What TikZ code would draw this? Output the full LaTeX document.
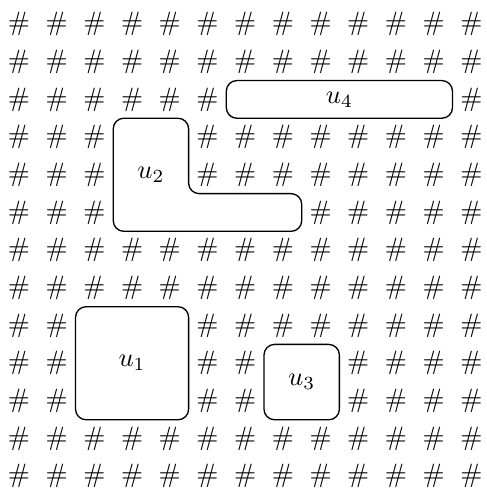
\documentclass[tikz,border=0pt]{standalone}
\begin{document}
\begin{tikzpicture}[x=0.5cm,y=-0.5cm,
  hash/.style={inner sep=0pt,font=\normalsize},
  region/.style={draw,line width=0.5pt,rounded corners=4pt},
  lab/.style={inner sep=0pt}]
\useasboundingbox (-0.504,-0.637) rectangle (12.414,12.31);
\foreach \j in {0,...,12} {
  \foreach \i in {0,...,12} {
    \pgfmathtruncatemacro\cov{((\j==2) && (\i>=6) && (\i<=11)) || (((\j==3) || (\j==4)) && (\i>=3) && (\i<=4)) || ((\j==5) && (\i>=3) && (\i<=7)) || ((\j>=8) && (\j<=10) && (\i>=2) && (\i<=4)) || (((\j==9) || (\j==10)) && (\i>=7) && (\i<=8)) ? 1 : 0}
    \ifnum\cov=0 \node[hash] (h-\i-\j) at (\i,\j) {\#};\fi
  }
}
% u4
\draw[region] (5.5,1.5) rectangle (11.5,2.5);
\node[lab] (u4) at (8.5,2) {$u_4$};
% u2 (L shape)
\draw[region] (3.5,2.5) -- (4.5,2.5) -- (4.5,4.5) -- (7.5,4.5) -- (7.5,5.5) -- (2.5,5.5) -- (2.5,2.5) -- cycle;
\node[lab] (u2) at (3.5,4) {$u_2$};
% u1
\draw[region] (1.5,7.5) rectangle (4.5,10.5);
\node[lab] (u1) at (3,9) {$u_1$};
% u3
\draw[region] (6.5,8.5) rectangle (8.5,10.5);
\node[lab] (u3) at (7.5,9.5) {$u_3$};
\end{tikzpicture}
\end{document}
